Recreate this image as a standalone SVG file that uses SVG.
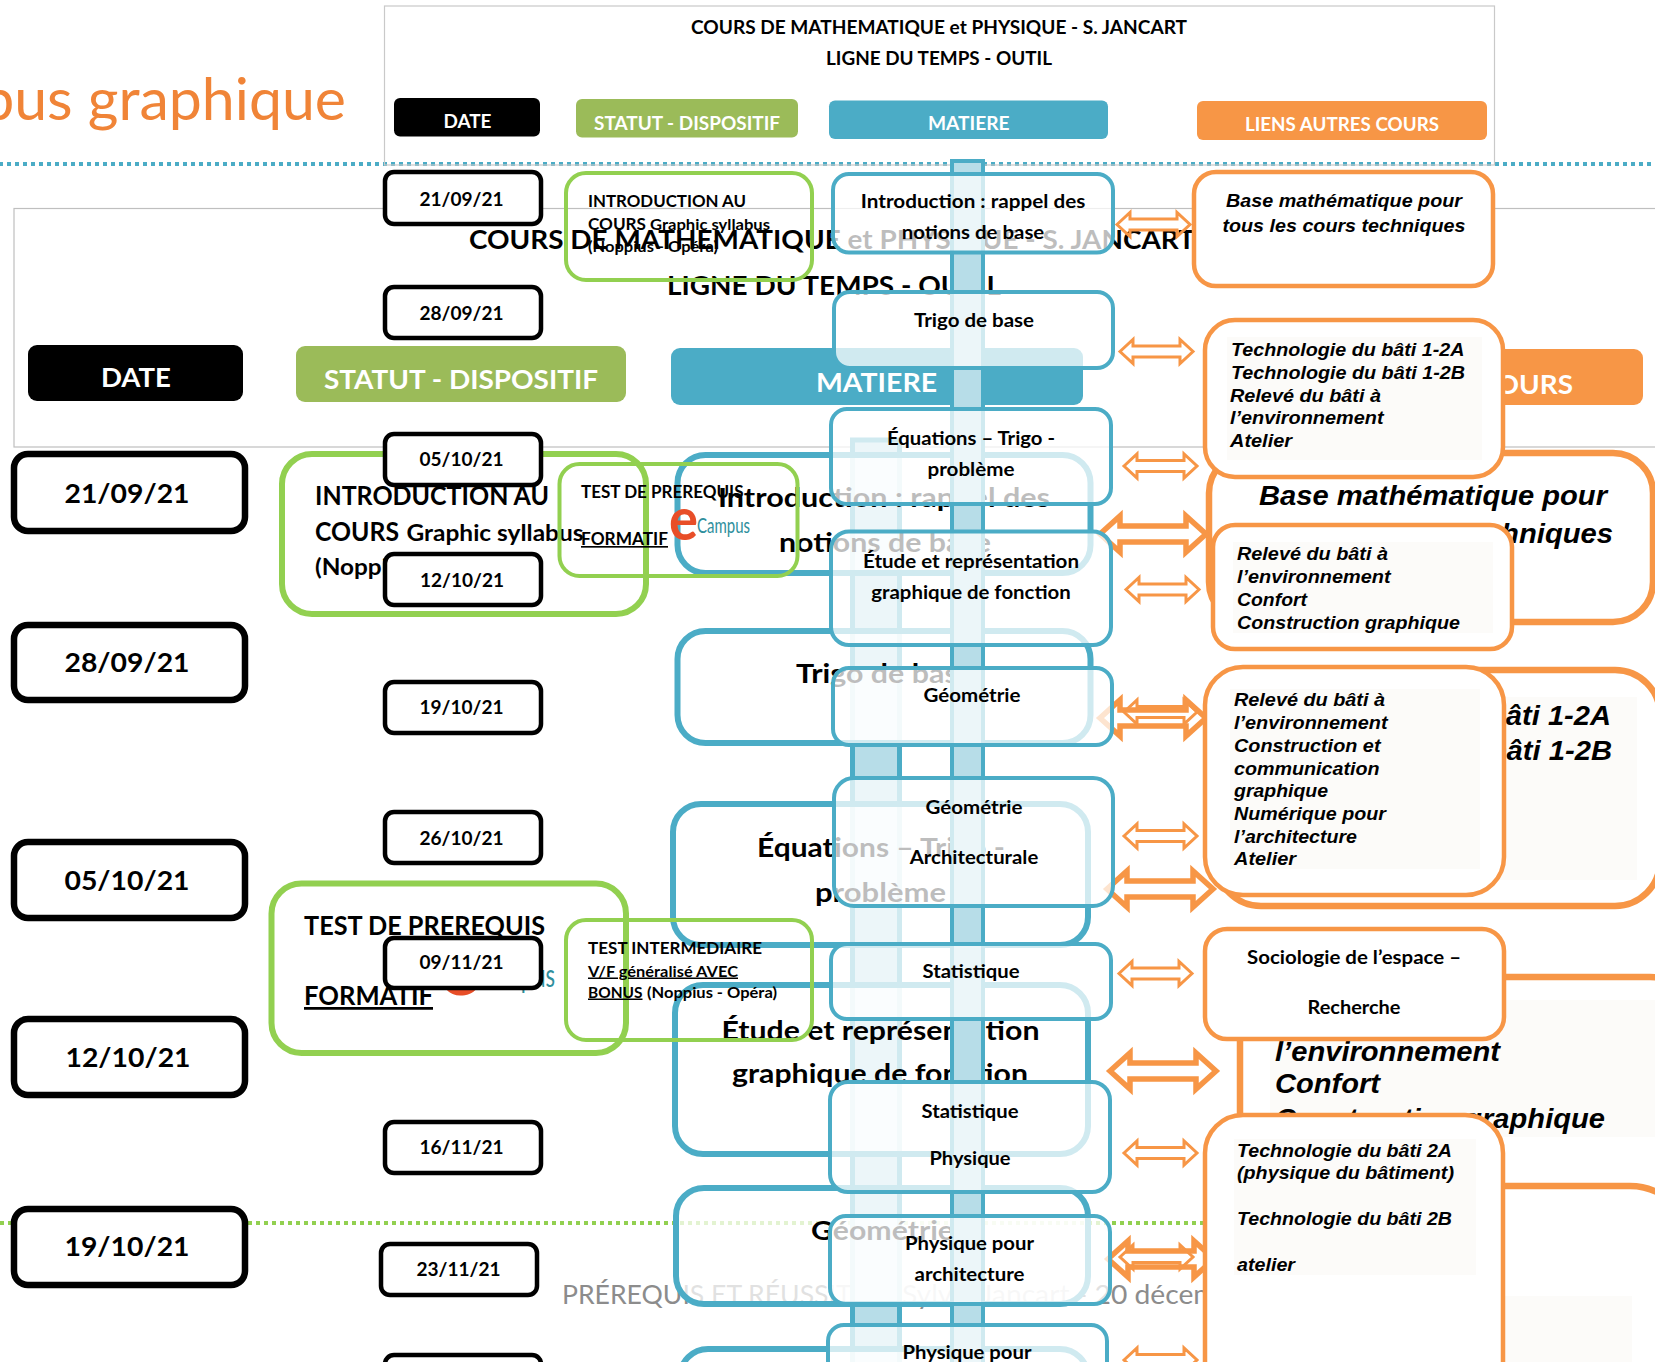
<svg xmlns="http://www.w3.org/2000/svg" width="1655" height="1362" viewBox="0 0 1655 1362">
<defs>
<style>
text{font-family:"Lato","Carlito","Liberation Sans",sans-serif;font-weight:700;fill:#000;}
.c{text-anchor:middle}
.f{font-size:18.5px}
.b{font-size:27.5px}
.i{font-family:"Liberation Sans",Arial,sans-serif;font-style:italic;font-weight:700}
.w{fill:#fff}
.u{text-decoration:underline}
.foot{font-size:27.5px;font-weight:400;fill:#8c8c8c}
.d rect{fill:#fff;stroke:#000;stroke-width:4.5}
.bd rect{fill:#fff;stroke:#000;stroke-width:6.5}
.g rect{fill:none;stroke:#92d050;stroke-width:4}
.bg rect{fill:none;stroke:#92d050;stroke-width:6}
.m rect{fill:#fff;fill-opacity:.74;stroke:#4bacc6;stroke-width:4}
.bm rect{fill:#fff;fill-opacity:.74;stroke:#4bacc6;stroke-width:6}
.o>g>rect:first-child{fill:#fff;stroke:#f79646;stroke-width:4.5}
.bo>g>rect:first-child{fill:#fff;stroke:#f79646;stroke-width:6.5}
.pale{fill:#fcfbf9}
.bar{fill:#b7dde8;stroke:#4bacc6}
.fa{fill:none;stroke:#f79646;stroke-width:3}
.ba{fill:none;stroke:#f79646;stroke-width:5.5}
</style>
<path id="fa" d="M0,12 L13,0 V6.5 H60 V0 L73,12 L60,24 V17.5 H13 V24 Z"/>
<path id="ba" d="M0,18 L20,0 V10 H86 V0 L106,18 L86,36 V26 H20 V36 Z"/>
</defs>
<rect width="1655" height="1362" fill="#fff"/>

<g id="back-slide">
<text x="346" y="120" text-anchor="end" style="font-size:59px;font-weight:400;fill:#f08437" >bus graphique</text>
<line x1="0" y1="164" x2="1655" y2="164" stroke="#4bacc6" stroke-width="4" stroke-dasharray="4 4" stroke-dashoffset="1"/>
<line x1="0" y1="1223" x2="1205" y2="1223" stroke="#92d050" stroke-width="4" stroke-dasharray="4 4"/>
<rect x="14" y="208.500" width="1660" height="238.500" fill="none" stroke="#bfbfbf" stroke-width="1.2"/>
<text class="b" x="469" y="249" textLength="726" lengthAdjust="spacingAndGlyphs">COURS DE MATHEMATIQUE et PHYSIQUE - S. JANCART</text>
<text class="b" x="667" y="295" textLength="334" lengthAdjust="spacingAndGlyphs">LIGNE DU TEMPS - OUTIL</text>
<g id="back-head-date"><rect x="28" y="345" width="215" height="56" rx="9" fill="#000"/><text class="b w c" x="136" y="387" textLength="70" lengthAdjust="spacingAndGlyphs">DATE</text></g>
<g id="back-head-statut"><rect x="296" y="346" width="330" height="56" rx="9" fill="#9bbb59"/><text class="b w" x="324" y="389" textLength="274" lengthAdjust="spacingAndGlyphs">STATUT - DISPOSITIF</text></g>
<g id="back-head-matiere"><rect x="671" y="348" width="412" height="57" rx="9" fill="#4bacc6"/><text class="b w" x="816" y="392" textLength="121" lengthAdjust="spacingAndGlyphs">MATIERE</text></g>
<g id="back-head-liens"><rect x="1214" y="349" width="429" height="56" rx="9" fill="#f79646"/><text class="b w" x="1285" y="394" textLength="288" lengthAdjust="spacingAndGlyphs">LIENS AUTRES COURS</text></g>
<text class="foot" x="562" y="1304" textLength="305" lengthAdjust="spacingAndGlyphs">PRÉREQUIS ET RÉUSSITE</text>
<text class="foot" x="902" y="1304" textLength="355" lengthAdjust="spacingAndGlyphs">Sylvie Jancart - 20 décembre</text>
<rect class="bar" x="852.500" y="440" width="47" height="930" stroke-width="5"/>
<g class="bm">
<g id="back-m1"><rect x="677.500" y="455" width="413" height="118" rx="28"/><text class="b" x="718" y="506.500" textLength="332" lengthAdjust="spacingAndGlyphs">Introduction : rappel des</text><text class="b" x="779" y="552" textLength="212" lengthAdjust="spacingAndGlyphs">notions de base</text></g>
<g id="back-m2"><rect x="677.500" y="631" width="413" height="112" rx="28"/><text class="b" x="796" y="683" textLength="178" lengthAdjust="spacingAndGlyphs">Trigo de base</text></g>
<g id="back-m3"><rect x="673" y="804" width="415" height="141" rx="28"/><text class="b" x="757" y="857" textLength="248" lengthAdjust="spacingAndGlyphs">Équations – Trigo -</text><text class="b" x="815" y="902" textLength="131" lengthAdjust="spacingAndGlyphs">problème</text></g>
<g id="back-m4"><rect x="675" y="985" width="413" height="169" rx="28"/><text class="b" x="721.500" y="1040" textLength="318" lengthAdjust="spacingAndGlyphs">Étude et représentation</text><text class="b" x="732" y="1083" textLength="296" lengthAdjust="spacingAndGlyphs">graphique de fonction</text></g>
<g id="back-m5"><rect x="676" y="1188" width="412" height="116" rx="28"/><text class="b" x="811" y="1240" textLength="143" lengthAdjust="spacingAndGlyphs">Géométrie</text></g>
<g id="back-m6"><rect x="680" y="1349" width="408" height="100" rx="28"/></g>
</g>
<g class="bd">
<g id="back-d1"><rect x="14" y="454" width="231" height="77" rx="14"/><text class="b c" x="127" y="503" textLength="125" lengthAdjust="spacingAndGlyphs">21/09/21</text></g>
<g id="back-d2"><rect x="14" y="625" width="231" height="75" rx="14"/><text class="b c" x="127" y="672" textLength="125" lengthAdjust="spacingAndGlyphs">28/09/21</text></g>
<g id="back-d3"><rect x="14" y="842" width="231" height="76" rx="14"/><text class="b c" x="127" y="890" textLength="125" lengthAdjust="spacingAndGlyphs">05/10/21</text></g>
<g id="back-d4"><rect x="14" y="1019" width="231" height="76" rx="14"/><text class="b c" x="128" y="1067" textLength="125" lengthAdjust="spacingAndGlyphs">12/10/21</text></g>
<g id="back-d5"><rect x="14" y="1209" width="231" height="76" rx="14"/><text class="b c" x="127" y="1256" textLength="125" lengthAdjust="spacingAndGlyphs">19/10/21</text></g>
</g>
<g class="bg">
<g id="back-g1"><rect x="282" y="454" width="364" height="160" rx="30"/><text class="b" x="315" y="505" textLength="234" lengthAdjust="spacingAndGlyphs">INTRODUCTION AU</text><text class="b" x="315" y="541" textLength="84" lengthAdjust="spacingAndGlyphs">COURS</text><text x="406.500" y="541" style="font-size:23px" textLength="177" lengthAdjust="spacingAndGlyphs">Graphic syllabus</text><text x="315" y="575" style="font-size:23px" textLength="192" lengthAdjust="spacingAndGlyphs">(Noppius - Opéra)</text></g>
<g id="back-g2"><rect x="271.500" y="883.500" width="354.500" height="169.500" rx="30"/><text class="b" x="304" y="934.500" textLength="241" lengthAdjust="spacingAndGlyphs">TEST DE PREREQUIS</text><text class="b u" x="304" y="1005" textLength="129" lengthAdjust="spacingAndGlyphs">FORMATIF</text><text x="438" y="995" style="font-size:88px;fill:#e84e28" textLength="42" lengthAdjust="spacingAndGlyphs">e</text><text x="477" y="987" style="font-size:32px;font-weight:400;fill:#2f8f9d" textLength="78" lengthAdjust="spacingAndGlyphs">Campus</text></g>
</g>
<g class="bo">
<g id="back-o1"><rect x="1209" y="453" width="444" height="169" rx="40"/><text class="b i c" x="1433" y="505" textLength="348" lengthAdjust="spacingAndGlyphs">Base mathématique pour</text><text class="b i c" x="1433" y="543" textLength="360" lengthAdjust="spacingAndGlyphs">tous les cours techniques</text></g>
<g id="back-o2"><rect x="1216" y="670" width="444" height="236" rx="45"/><rect class="pale" x="1250" y="697" width="387" height="183"/><text class="b i" x="1266" y="725" textLength="345" lengthAdjust="spacingAndGlyphs">Technologie du bâti 1-2A</text><text class="b i" x="1266" y="760" textLength="346" lengthAdjust="spacingAndGlyphs">Technologie du bâti 1-2B</text></g>
<g id="back-o3"><rect x="1240" y="977" width="450" height="254" rx="40"/><rect class="pale" x="1270" y="1000" width="385" height="137"/><text class="b i" x="1275" y="1061" textLength="225" lengthAdjust="spacingAndGlyphs">l’environnement</text><text class="b i" x="1275" y="1093" textLength="105" lengthAdjust="spacingAndGlyphs">Confort</text><text class="b i" x="1275" y="1128" textLength="330" lengthAdjust="spacingAndGlyphs">Construction graphique</text></g>
<g id="back-o4"><rect x="1240" y="1186" width="450" height="240" rx="60"/><rect class="pale" x="1270" y="1296" width="362" height="70"/></g>
</g>
<g id="back-connectors" class="ba">
<use href="#ba" x="1100" y="516"/>
<use href="#ba" x="1100" y="700"/>
<use href="#ba" x="1107" y="871"/>
<use href="#ba" x="1110" y="1053"/>
<use href="#ba" x="1108" y="1241"/>
</g>
</g>

<g id="front-head">
<rect x="384.500" y="6" width="1110" height="159" fill="none" stroke="#c9c9c9" stroke-width="1.2"/>
<text class="f" x="691" y="34" textLength="496" lengthAdjust="spacingAndGlyphs">COURS DE MATHEMATIQUE et PHYSIQUE - S. JANCART</text>
<text class="f" x="826" y="65" textLength="226" lengthAdjust="spacingAndGlyphs">LIGNE DU TEMPS - OUTIL</text>
<g id="head-date"><rect x="394" y="98" width="146" height="38.500" rx="6" fill="#000"/><text class="f w c" x="467.500" y="128" textLength="48" lengthAdjust="spacingAndGlyphs">DATE</text></g>
<g id="head-statut"><rect x="576" y="99" width="222" height="38.500" rx="6" fill="#9bbb59"/><text class="f w" x="594" y="130" textLength="186" lengthAdjust="spacingAndGlyphs">STATUT - DISPOSITIF</text></g>
<g id="head-matiere"><rect x="829" y="100.500" width="279" height="38.500" rx="6" fill="#4bacc6"/><text class="f w" x="928" y="130" textLength="81.500" lengthAdjust="spacingAndGlyphs">MATIERE</text></g>
<g id="head-liens"><rect x="1197" y="101" width="290" height="39" rx="6" fill="#f79646"/><text class="f w" x="1245" y="131" textLength="194" lengthAdjust="spacingAndGlyphs">LIENS AUTRES COURS</text></g>
</g>
<rect class="bar" x="952" y="161" width="31" height="1210" stroke-width="4"/>

<g class="d">
<g id="d1"><rect x="385" y="172" width="156" height="52" rx="9"/><text class="f c" x="461.500" y="206" textLength="84" lengthAdjust="spacingAndGlyphs">21/09/21</text></g>
<g id="d2"><rect x="385" y="287" width="156" height="51" rx="9"/><text class="f c" x="461.500" y="320" textLength="84" lengthAdjust="spacingAndGlyphs">28/09/21</text></g>
<g id="d3"><rect x="385" y="434" width="156" height="51" rx="9"/><text class="f c" x="461.500" y="466" textLength="84" lengthAdjust="spacingAndGlyphs">05/10/21</text></g>
<g id="d4"><rect x="385" y="554" width="156" height="51" rx="9"/><text class="f c" x="462" y="586.500" textLength="84" lengthAdjust="spacingAndGlyphs">12/10/21</text></g>
<g id="d5"><rect x="385" y="682" width="156" height="51" rx="9"/><text class="f c" x="461.500" y="714" textLength="84" lengthAdjust="spacingAndGlyphs">19/10/21</text></g>
<g id="d6"><rect x="385" y="812" width="156" height="51" rx="9"/><text class="f c" x="461.500" y="845" textLength="84" lengthAdjust="spacingAndGlyphs">26/10/21</text></g>
<g id="d7"><rect x="385" y="938" width="156" height="50" rx="9"/><text class="f c" x="461.500" y="968.500" textLength="84" lengthAdjust="spacingAndGlyphs">09/11/21</text></g>
<g id="d8"><rect x="385" y="1122" width="156" height="51" rx="9"/><text class="f c" x="461.500" y="1154" textLength="84" lengthAdjust="spacingAndGlyphs">16/11/21</text></g>
<g id="d9"><rect x="381" y="1244" width="156" height="51" rx="9"/><text class="f c" x="458.500" y="1276" textLength="84" lengthAdjust="spacingAndGlyphs">23/11/21</text></g>
<g id="d10"><rect x="385" y="1355" width="156" height="51" rx="9"/></g>
</g>

<g class="g">
<g id="g1"><rect x="566" y="173" width="246" height="107" rx="20"/><text x="588" y="207" style="font-size:17.500px" textLength="158" lengthAdjust="spacingAndGlyphs">INTRODUCTION AU</text><text x="588" y="230" style="font-size:17.500px" textLength="58" lengthAdjust="spacingAndGlyphs">COURS</text><text x="650" y="230" style="font-size:15px" textLength="120" lengthAdjust="spacingAndGlyphs">Graphic syllabus</text><text x="588" y="252" style="font-size:15px" textLength="130" lengthAdjust="spacingAndGlyphs">(Noppius - Opéra)</text></g>
<g id="g2"><rect x="559.500" y="464" width="238" height="112" rx="20"/><text x="581" y="498" style="font-size:16.500px" textLength="162.500" lengthAdjust="spacingAndGlyphs">TEST DE PREREQUIS</text><text class="u" x="581" y="545" style="font-size:16.500px" textLength="87" lengthAdjust="spacingAndGlyphs">FORMATIF</text><text x="669" y="540" style="font-size:60px;fill:#e84e28" textLength="29" lengthAdjust="spacingAndGlyphs">e</text><text x="697" y="533" style="font-size:22px;font-weight:400;fill:#2f8f9d" textLength="53" lengthAdjust="spacingAndGlyphs">Campus</text></g>
<g id="g3"><rect x="566" y="920" width="246" height="120" rx="20"/><text x="588" y="953.500" style="font-size:17.500px" textLength="174" lengthAdjust="spacingAndGlyphs">TEST INTERMEDIAIRE</text><text class="u" x="588" y="976.500" style="font-size:15px" textLength="150" lengthAdjust="spacingAndGlyphs">V/F généralisé AVEC</text><text class="u" x="588" y="997.500" style="font-size:15px" textLength="54.500" lengthAdjust="spacingAndGlyphs">BONUS</text><text x="647" y="997.500" style="font-size:15px" textLength="130" lengthAdjust="spacingAndGlyphs">(Noppius - Opéra)</text></g>
</g>

<g class="m">
<g id="m1"><rect x="833" y="174" width="280" height="78.500" rx="16"/><text class="f c" x="973" y="208" textLength="224.500" lengthAdjust="spacingAndGlyphs">Introduction : rappel des</text><text class="f c" x="973" y="239" textLength="142.500" lengthAdjust="spacingAndGlyphs">notions de base</text></g>
<g id="m2"><rect x="834" y="292" width="279" height="76" rx="16"/><text class="f c" x="974" y="327" textLength="120" lengthAdjust="spacingAndGlyphs">Trigo de base</text></g>
<g id="m3"><rect x="831" y="409" width="280" height="95" rx="16"/><text class="f c" x="971" y="445" textLength="168" lengthAdjust="spacingAndGlyphs">Équations – Trigo -</text><text class="f c" x="971" y="475.500" textLength="87" lengthAdjust="spacingAndGlyphs">problème</text></g>
<g id="m4"><rect x="831" y="531.500" width="280" height="113.500" rx="18"/><text class="f c" x="971" y="568" textLength="216" lengthAdjust="spacingAndGlyphs">Étude et représentation</text><text class="f c" x="971" y="599" textLength="199.500" lengthAdjust="spacingAndGlyphs">graphique de fonction</text></g>
<g id="m5"><rect x="833" y="668" width="279" height="77" rx="16"/><text class="f c" x="972" y="701.500" textLength="97" lengthAdjust="spacingAndGlyphs">Géométrie</text></g>
<g id="m6"><rect x="834" y="778" width="279" height="128" rx="20"/><text class="f c" x="974" y="814" textLength="97" lengthAdjust="spacingAndGlyphs">Géométrie</text><text class="f c" x="974" y="864" textLength="128.500" lengthAdjust="spacingAndGlyphs">Architecturale</text></g>
<g id="m7"><rect x="831" y="944" width="280" height="75" rx="16"/><text class="f c" x="971" y="978" textLength="97" lengthAdjust="spacingAndGlyphs">Statistique</text></g>
<g id="m8"><rect x="830" y="1082" width="280" height="110" rx="18"/><text class="f c" x="970" y="1118" textLength="97" lengthAdjust="spacingAndGlyphs">Statistique</text><text class="f c" x="970" y="1165" textLength="81" lengthAdjust="spacingAndGlyphs">Physique</text></g>
<g id="m9"><rect x="830" y="1216" width="280" height="88" rx="16"/><text class="f c" x="969.500" y="1250" textLength="129" lengthAdjust="spacingAndGlyphs">Physique pour</text><text class="f c" x="969.500" y="1281" textLength="110" lengthAdjust="spacingAndGlyphs">architecture</text></g>
<g id="m10"><rect x="828" y="1325" width="279" height="100" rx="16"/><text class="f c" x="967" y="1359" textLength="129" lengthAdjust="spacingAndGlyphs">Physique pour</text></g>
</g>

<g class="o">
<g id="o1"><rect x="1194" y="172" width="299" height="114" rx="22"/><text class="f i c" x="1344" y="207" textLength="236" lengthAdjust="spacingAndGlyphs">Base mathématique pour</text><text class="f i c" x="1344" y="232" textLength="243" lengthAdjust="spacingAndGlyphs">tous les cours techniques</text></g>
<g id="o2"><rect x="1205" y="320" width="298" height="157" rx="30"/><rect class="pale" x="1227" y="337" width="255" height="123"/><text class="f i" x="1231" y="355.500" textLength="233.500" lengthAdjust="spacingAndGlyphs">Technologie du bâti 1-2A</text><text class="f i" x="1231" y="378.500" textLength="234" lengthAdjust="spacingAndGlyphs">Technologie du bâti 1-2B</text><text class="f i" x="1230" y="401.500" textLength="151" lengthAdjust="spacingAndGlyphs">Relevé du bâti à</text><text class="f i" x="1230" y="424" textLength="153.500" lengthAdjust="spacingAndGlyphs">l’environnement</text><text class="f i" x="1230" y="446.500" textLength="62" lengthAdjust="spacingAndGlyphs">Atelier</text></g>
<g id="o3"><rect x="1213" y="525" width="299" height="124" rx="22"/><rect class="pale" x="1233" y="542" width="260" height="91"/><text class="f i" x="1237" y="560" textLength="151" lengthAdjust="spacingAndGlyphs">Relevé du bâti à</text><text class="f i" x="1237" y="583" textLength="153.500" lengthAdjust="spacingAndGlyphs">l’environnement</text><text class="f i" x="1237" y="606" textLength="70" lengthAdjust="spacingAndGlyphs">Confort</text><text class="f i" x="1237" y="629" textLength="223" lengthAdjust="spacingAndGlyphs">Construction graphique</text></g>
<g id="o4"><rect x="1205" y="667" width="299" height="228" rx="38"/><rect class="pale" x="1230" y="689" width="250" height="180"/><text class="f i" x="1234" y="706" textLength="151" lengthAdjust="spacingAndGlyphs">Relevé du bâti à</text><text class="f i" x="1234" y="729" textLength="153.500" lengthAdjust="spacingAndGlyphs">l’environnement</text><text class="f i" x="1234" y="751.500" textLength="146.500" lengthAdjust="spacingAndGlyphs">Construction et</text><text class="f i" x="1234" y="774.500" textLength="145.500" lengthAdjust="spacingAndGlyphs">communication</text><text class="f i" x="1234" y="797" textLength="94" lengthAdjust="spacingAndGlyphs">graphique</text><text class="f i" x="1234" y="820" textLength="152" lengthAdjust="spacingAndGlyphs">Numérique pour</text><text class="f i" x="1234" y="843" textLength="123" lengthAdjust="spacingAndGlyphs">l’architecture</text><text class="f i" x="1234" y="865" textLength="62" lengthAdjust="spacingAndGlyphs">Atelier</text></g>
<g id="o5"><rect x="1205" y="929" width="299" height="110" rx="22"/><text class="f c" x="1354" y="964" textLength="214" lengthAdjust="spacingAndGlyphs">Sociologie de l’espace –</text><text class="f c" x="1354" y="1014" textLength="93" lengthAdjust="spacingAndGlyphs">Recherche</text></g>
<g id="o6"><rect x="1205" y="1115" width="298" height="320" rx="38"/><rect class="pale" x="1234" y="1139" width="242" height="136"/><text class="f i" x="1237" y="1157" textLength="215" lengthAdjust="spacingAndGlyphs">Technologie du bâti 2A</text><text class="f i" x="1237" y="1179" textLength="217" lengthAdjust="spacingAndGlyphs">(physique du bâtiment)</text><text class="f i" x="1237" y="1225" textLength="215" lengthAdjust="spacingAndGlyphs">Technologie du bâti 2B</text><text class="f i" x="1237" y="1271" textLength="58" lengthAdjust="spacingAndGlyphs">atelier</text></g>
</g>

<g id="connectors" class="fa">
<use href="#fa" x="1117" y="212.500"/>
<use href="#fa" x="1120" y="339.500"/>
<use href="#fa" x="1124" y="454"/>
<use href="#fa" x="1126" y="577.500"/>
<use href="#fa" x="1124" y="700"/>
<use href="#fa" x="1124" y="824"/>
<use href="#fa" x="1119" y="961.500"/>
<use href="#fa" x="1124" y="1141"/>
<use href="#fa" x="1120" y="1245"/>
<use href="#fa" x="1124" y="1348"/>
</g>
</svg>
